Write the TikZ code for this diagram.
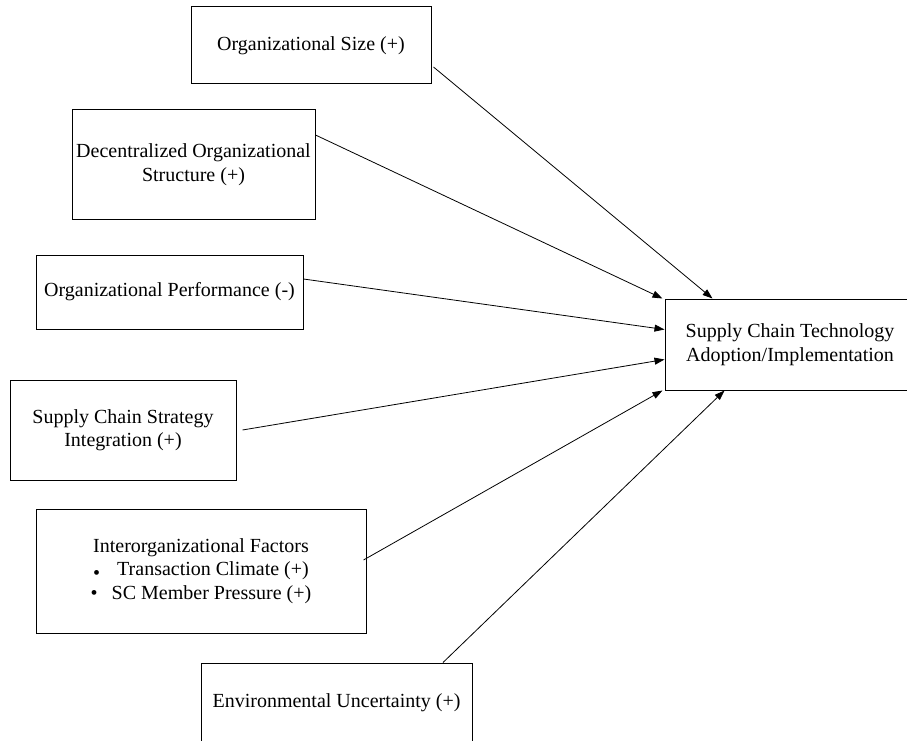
\documentclass[tikz,border=0pt]{standalone}
\usepackage{fontspec}
\setmainfont{Liberation Serif}
\usepackage{tikz}
\usetikzlibrary{
	arrows.meta
}
\tikzset{
	x=1pt,
	y=-1pt,
	factor/.style={
		draw,
		line width=1pt,
		inner sep=0pt,
		align=center,
		font=\fontsize{20}{23.5}\selectfont
	},
	every edge/.append style={
		line width=0.8pt,
		-{Triangle[length=10pt,width=7pt]}
	}
}

\begin{document}
\begin{tikzpicture}
		\useasboundingbox (0,0) rectangle (907,741);
		\draw
			node [factor,minimum width=240,minimum height=77]  (size)  at (311,45.5)  {Organizational Size (+)}
			node [factor,minimum width=243,minimum height=109] (decen) at (193.5,164.5) {Decentralized Organizational\\Structure (+)}
			node [factor,minimum width=267,minimum height=74]  (perf)  at (169.5,292) {Organizational Performance (-)}
			node [factor,minimum width=226,minimum height=100] (strat) at (123,430)   {Supply Chain Strategy\\Integration (+)}
			node [factor,minimum width=330,minimum height=124] (inter) at (201,571)   {Interorganizational Factors\\
				\raisebox{-0.35ex}{\textbullet}\hspace{17pt}Transaction Climate (+)\\
				\textbullet\hspace{14pt}SC Member Pressure (+)}
			node [factor,minimum width=271,minimum height=80]  (env)   at (336.5,703) {Environmental Uncertainty (+)}
			node [factor,minimum width=250,minimum height=91]  (adopt) at (790,344.5) {Supply Chain Technology\\Adoption/Implementation}

			([shift={(2pt,-21.5pt)}]size.east)  edge ([xshift=48pt]adopt.north west)
			([yshift=29.5pt]decen.east)         edge ([xshift=-2pt]adopt.north west)
			([yshift=13pt]perf.east)            edge ([yshift=-31pt]adopt.north west)
			([xshift=6pt]strat.east)            edge ([yshift=31pt]adopt.south west)
			([shift={(-3pt,11pt)}]inter.east)   edge ([xshift=-2pt]adopt.south west)
			([xshift=106.5pt]env.north)         edge ([xshift=60pt]adopt.south west)
		;
	\end{tikzpicture}
\end{document}
